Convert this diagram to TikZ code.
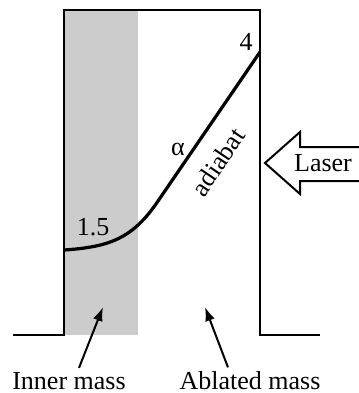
\documentclass[tikz,border=0pt]{standalone}
\usepackage{fontspec}
\setmainfont{Liberation Serif}
\usetikzlibrary{arrows.meta,positioning}

\begin{document}
\begin{tikzpicture}[
  x=0.4pt, y=-0.4pt,
  lbl/.style={font=\fontsize{10.4}{12}\selectfont, inner sep=0pt},
  wall/.style={line width=0.8pt},
  adia/.style={line width=1.3pt},
  arr/.style={-{Latex[length=5.6pt, width=4pt]}, line width=0.8pt}
]
\useasboundingbox (0,0) rectangle (359,393);
% target slab
\fill[black!20] (64,10) rectangle (138,335);
\coordinate (bl) at (64,335);
\coordinate (tl) at (64,10);
\coordinate (tr) at (260,10);
\coordinate (br) at (260,335);
\draw[wall] (13,335) -- (bl) -- (tl) -- (tr) -- (br) -- (320,335);
% adiabat curve
\coordinate (inner) at (64,250);
\coordinate (knee) at (156,204);
\coordinate (front) at (260,52);
\draw[adia] (inner) .. controls (110,247) and (132,238) .. (knee) -- (front);
\node[lbl] (four) at (246,42) {4};
\node[lbl] (low) at (93,227) {1.5};
\node[lbl] (alpha) at (178,149) {α};
\node[lbl, rotate=56] (adiabat) at (218,162) {adiabat};
% laser
\node[lbl] (laser) at (323,163) {Laser};
\draw[wall] (359,147) -- (300,147) -- (300,132) -- (265,163) -- (300,194) -- (300,181) -- (359,181);
% mass labels
\node[lbl] (innerm) at (69,381) {Inner mass};
\node[lbl] (ablm) at (250,381) {Ablated mass};
\coordinate (innerp) at (103,307);
\coordinate (ablp) at (205,307);
\draw[arr] (innerm.north) ++(10,-4) -- (innerp);
\draw[arr] (ablm.north) ++(-22,-4) -- (ablp);
\end{tikzpicture}
\end{document}
